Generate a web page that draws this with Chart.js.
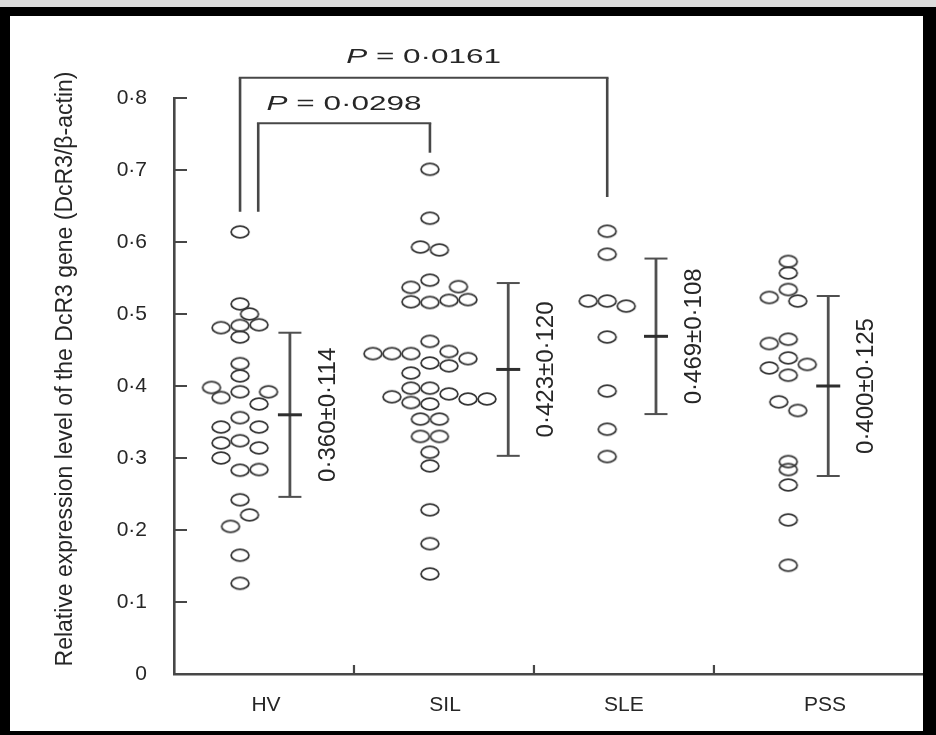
<!DOCTYPE html>
<html><head><meta charset="utf-8">
<script src="https://cdn.jsdelivr.net/npm/chart.js@4.4.0/dist/chart.umd.min.js"></script>
<style>html,body{margin:0;padding:0;background:#fff;} canvas{display:block;}</style>
</head><body>
<canvas id="c" width="936" height="735" style="width:936px;height:735px"></canvas>
<script>
// ---------------- data ----------------
const categories = ['HV', 'SIL', 'SLE', 'PSS'];
const yTickValues = [0, 0.1, 0.2, 0.3, 0.4, 0.5, 0.6, 0.7, 0.8];
const yTickLabels = ['0', '0·1', '0·2', '0·3', '0·4', '0·5', '0·6', '0·7', '0·8'];
const yTitle = 'Relative expression level of the DcR3 gene (DcR3/β-actin)';

const hvValues = [0.614, 0.514, 0.500, 0.481, 0.484, 0.485, 0.468, 0.431, 0.414, 0.398, 0.384, 0.392, 0.392, 0.375,
                  0.356, 0.343, 0.343, 0.321, 0.324, 0.314, 0.300, 0.283, 0.284, 0.242, 0.221, 0.205, 0.165, 0.126];
const hvCols   = [0, 0, 0.5, -1, 0, 1, 0, 0, 0, -1.5, -1, 0, 1.5, 1,
                  0, -1, 1, -1, 0, 1, -1, 0, 1, 0, 0.5, -0.5, 0, 0];

const silValues = [0.701, 0.633, 0.593, 0.589, 0.547, 0.537, 0.538, 0.517, 0.516, 0.519, 0.520, 0.462, 0.445, 0.445,
                   0.445, 0.448, 0.438, 0.432, 0.428, 0.418, 0.397, 0.397, 0.385, 0.389, 0.382, 0.382, 0.377, 0.375,
                   0.354, 0.354, 0.330, 0.330, 0.308, 0.289, 0.228, 0.181, 0.139];
const silCols   = [0, 0, -0.5, 0.5, 0, -1, 1.5, -1, 0, 1, 2, 0, -3, -2,
                   -1, 1, 2, 0, 1, -1, -1, 0, -2, 1, 2, 3, -1, 0,
                   -0.5, 0.5, -0.5, 0.5, 0, 0, 0, 0, 0];

const sleValues = [0.615, 0.583, 0.518, 0.518, 0.511, 0.468, 0.393, 0.340, 0.302];
const sleCols   = [0, 0, -1, 0, 1, 0, 0, 0, 0];

const pssValues = [0.573, 0.557, 0.534, 0.523, 0.518, 0.459, 0.465, 0.439, 0.430, 0.425, 0.415, 0.378, 0.366,
                   0.295, 0.284, 0.2625, 0.214, 0.151];
const pssCols   = [0, 0, 0, -1, 0.5, -1, 0, 0, 1, -1, 0, -0.5, 0.5, 0, 0, 0, 0, 0];

const means = [0.360, 0.423, 0.469, 0.400];
const sds   = [0.114, 0.120, 0.108, 0.125];

const comparisonPairs = [[0, 2], [0, 1]];
const pValues = ['0·0161', '0·0298'];

// ---------------- layout (positions / styles) ----------------
const L = {
  xMax: 4.156,
  dotCenters: [0.367, 1.422, 2.407, 3.413],
  barX: [0.644, 1.857, 2.678, 3.635],
  labelX: [0.511, 1.506, 2.5, 3.617],
  boundaries: [1, 2, 3],
  dotStep: 0.1056,
  statOffsetPx: 38,
  brackets: [
    {x1: 0.367, x2: 2.407, y: 0.828, d1: 0.642, d2: 0.6625, ty: 0.857},
    {x1: 0.468, x2: 1.422, y: 0.765, d1: 0.642, d2: 0.724, ty: 0.791}
  ],
  titleX: 66, titleY: 369
};
const INK = '#262626';
const LINE = '#474747';
const FONT = '"Liberation Sans", Arial, Helvetica, sans-serif';

function ring() {
  const c = document.createElement('canvas');
  c.width = 22; c.height = 16;
  const g = c.getContext('2d');
  g.strokeStyle = '#363636';
  g.lineWidth = 1.8;
  g.beginPath();
  g.ellipse(11, 8, 8.9, 5.8, 0, 0, Math.PI * 2);
  g.stroke();
  return c;
}
const RING = ring();

const groups = [[hvValues, hvCols], [silValues, silCols], [sleValues, sleCols], [pssValues, pssCols]];
const datasets = groups.map(([vals, cols], g) => ({
  label: categories[g],
  data: vals.map((v, i) => ({x: L.dotCenters[g] + cols[i] * L.dotStep, y: v})),
  pointStyle: RING,
  pointRadius: 9,
  showLine: false
}));

const fmt = v => v.toFixed(3).replace('.', '·');

const decor = {
  id: 'decor',
  beforeDraw(chart) {
    const ctx = chart.ctx;
    ctx.save();
    ctx.fillStyle = '#000';
    ctx.fillRect(0, 0, chart.width, chart.height);
    ctx.fillStyle = '#dcdcdc';
    ctx.fillRect(0, 0, chart.width, 7);
    ctx.fillStyle = '#fff';
    ctx.fillRect(10, 16, 913, 715);
    ctx.restore();
  },
  afterDraw(chart) {
    const ctx = chart.ctx;
    const xs = chart.scales.x, ys = chart.scales.y;
    const area = chart.chartArea;
    const X = v => xs.getPixelForValue(v);
    const Y = v => ys.getPixelForValue(v);
    ctx.save();
    ctx.strokeStyle = LINE;
    ctx.lineCap = 'butt';
    // inward ticks
    ctx.lineWidth = 2;
    yTickValues.forEach(v => {
      if (v === 0) return;
      const y = Y(v);
      ctx.beginPath(); ctx.moveTo(area.left, y); ctx.lineTo(area.left + 13, y); ctx.stroke();
    });
    ctx.lineWidth = 2.2;
    L.boundaries.forEach(b => {
      const x = X(b);
      ctx.beginPath(); ctx.moveTo(x, area.bottom); ctx.lineTo(x, area.bottom - 9); ctx.stroke();
    });
    // error bars and labels
    means.forEach((m, g) => {
      const x = X(L.barX[g]);
      const yt = Y(m + sds[g]), yb = Y(m - sds[g]), ym = Y(m);
      ctx.strokeStyle = '#505050';
      ctx.lineWidth = 2.8;
      ctx.beginPath(); ctx.moveTo(x, yt); ctx.lineTo(x, yb); ctx.stroke();
      ctx.lineWidth = 2;
      ctx.beginPath(); ctx.moveTo(x - 11.5, yt); ctx.lineTo(x + 11.5, yt); ctx.stroke();
      ctx.beginPath(); ctx.moveTo(x - 11.5, yb); ctx.lineTo(x + 11.5, yb); ctx.stroke();
      ctx.strokeStyle = '#2e2e2e';
      ctx.lineWidth = 3;
      ctx.beginPath(); ctx.moveTo(x - 12, ym); ctx.lineTo(x + 12, ym); ctx.stroke();
      ctx.save();
      ctx.translate(x + L.statOffsetPx, ym);
      ctx.rotate(-Math.PI / 2);
      ctx.fillStyle = INK;
      ctx.font = '24px ' + FONT;
      ctx.textAlign = 'center';
      ctx.textBaseline = 'middle';
      ctx.fillText(fmt(m) + '±' + fmt(sds[g]), 0, 0);
      ctx.restore();
    });
    // brackets
    ctx.strokeStyle = LINE;
    L.brackets.forEach((b, k) => {
      const x1 = X(b.x1), x2 = X(b.x2), y = Y(b.y);
      ctx.lineWidth = 2.6;
      ctx.beginPath(); ctx.moveTo(x1, Y(b.d1)); ctx.lineTo(x1, y); ctx.stroke();
      ctx.beginPath(); ctx.moveTo(x2, Y(b.d2)); ctx.lineTo(x2, y); ctx.stroke();
      ctx.lineWidth = 2;
      ctx.beginPath(); ctx.moveTo(x1 - 1.3, y); ctx.lineTo(x2 + 1.3, y); ctx.stroke();
      // P label
      const cx = (x1 + x2) / 2, cy = Y(b.ty);
      const sx = 1.5;
      ctx.font = 'italic 21px ' + FONT;
      const wP = ctx.measureText('P').width;
      ctx.font = '21px ' + FONT;
      const rest = ' = ' + pValues[k];
      const wR = ctx.measureText(rest).width;
      ctx.save();
      ctx.translate(cx - (wP + wR) * sx / 2, cy);
      ctx.scale(sx, 1);
      ctx.fillStyle = INK;
      ctx.textBaseline = 'middle';
      ctx.textAlign = 'left';
      ctx.font = 'italic 21px ' + FONT;
      ctx.fillText('P', 0, 0);
      ctx.font = '21px ' + FONT;
      ctx.fillText(rest, wP, 0);
      ctx.restore();
    });
    // y title
    ctx.save();
    ctx.translate(L.titleX, L.titleY);
    ctx.rotate(-Math.PI / 2);
    ctx.fillStyle = INK;
    ctx.font = '23px ' + FONT;
    ctx.textAlign = 'center';
    ctx.textBaseline = 'middle';
    ctx.fillText(yTitle, 0, 0);
    ctx.restore();
    ctx.restore();
  }
};

new Chart(document.getElementById('c'), {
  type: 'scatter',
  data: {datasets},
  options: {
    responsive: false,
    animation: false,
    devicePixelRatio: 1,
    layout: {padding: {top: 98, right: 14, bottom: 0, left: 0}},
    plugins: {legend: {display: false}, tooltip: {enabled: false}},
    scales: {
      x: {
        type: 'linear', min: 0, max: L.xMax,
        afterBuildTicks: s => { s.ticks = L.labelX.map(v => ({value: v})); },
        afterFit: s => { s.height = 61; },
        grid: {display: false},
        border: {display: true, color: LINE, width: 2.4},
        ticks: {
          autoSkip: false, maxRotation: 0, padding: 11,
          color: INK, font: {size: 21, family: FONT},
          callback: (v, i) => categories[i]
        }
      },
      y: {
        type: 'linear', min: 0, max: 0.8,
        afterBuildTicks: s => { s.ticks = yTickValues.map(v => ({value: v})); },
        afterFit: s => { s.width = 174; },
        grid: {display: false},
        border: {display: true, color: LINE, width: 2.6},
        ticks: {
          padding: 19, color: INK, font: {size: 21, family: FONT},
          callback: (v, i) => yTickLabels[i]
        }
      }
    }
  },
  plugins: [decor]
});
</script>
</body></html>
